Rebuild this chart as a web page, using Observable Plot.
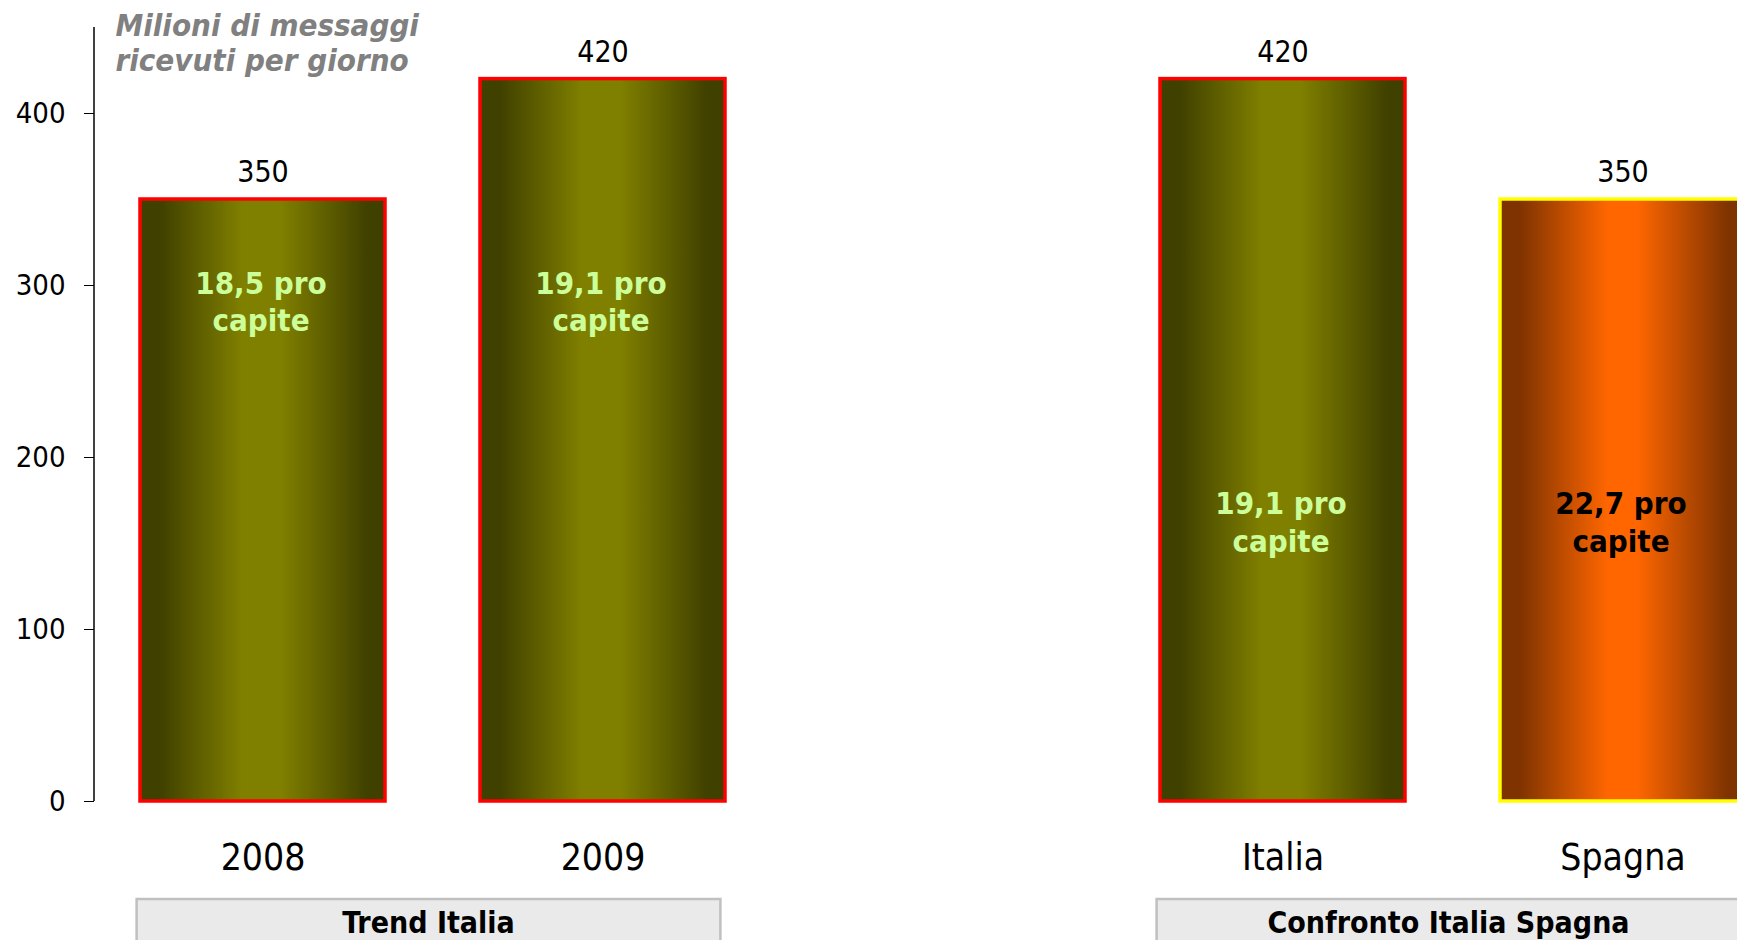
<!DOCTYPE html>
<html>
<head>
<meta charset="utf-8">
<script src="https://cdn.jsdelivr.net/npm/d3@7"></script>
<script src="https://cdn.jsdelivr.net/npm/@observablehq/plot@0.6"></script>
<style>
  html, body { margin: 0; padding: 0; background: #fff; width: 1737px; height: 940px; overflow: hidden; }
  #chart { position: relative; width: 1737px; height: 940px; overflow: hidden; }
  #chart svg { overflow: hidden; }
</style>
</head>
<body>
<svg width="0" height="0" style="position:absolute">
  <defs>
    <linearGradient id="gOlive" x1="0" x2="1" y1="0" y2="0">
      <stop offset="0" stop-color="#404000"/>
      <stop offset="0.08" stop-color="#404000"/>
      <stop offset="0.42" stop-color="#808000"/>
      <stop offset="0.57" stop-color="#808000"/>
      <stop offset="0.93" stop-color="#404000"/>
      <stop offset="1" stop-color="#404000"/>
    </linearGradient>
    <linearGradient id="gOrange" x1="0" x2="1" y1="0" y2="0">
      <stop offset="0" stop-color="#7f3300"/>
      <stop offset="0.08" stop-color="#7f3300"/>
      <stop offset="0.44" stop-color="#ff6600"/>
      <stop offset="0.56" stop-color="#ff6600"/>
      <stop offset="0.93" stop-color="#7f3300"/>
      <stop offset="1" stop-color="#7f3300"/>
    </linearGradient>
  </defs>
</svg>
<div id="chart"></div>
<script>
// ---- data ----
const categories = ["2008", "2009", "Italia", "Spagna"];
const values = [350, 420, 420, 350];
const perCapita = ["18,5", "19,1", "19,1", "22,7"];
const groups = ["Trend Italia", "Trend Italia", "Confronto Italia Spagna", "Confronto Italia Spagna"];
const countries = ["Italia", "Italia", "Italia", "Spagna"];
const groupNames = ["Trend Italia", "Confronto Italia Spagna"];
const yTicks = [0, 100, 200, 300, 400];
const titleText = "Milioni di messaggi\nricevuti per giorno";

// ---- layout / style ----
const FONT = "'DejaVu Sans Condensed', 'Liberation Sans', sans-serif";
const gapSlot = "\u200b";           // one empty slot between the two groups
const xDomain = [categories[0], categories[1], gapSlot, categories[2], categories[3]];
const labelLevel = {"Trend Italia": 291, "Confronto Italia Spagna": 163};
const fillOf = {Italia: "url(#gOlive)", Spagna: "url(#gOrange)"};
const strokeOf = {Italia: "#ff0000", Spagna: "#ffff00"};
const textOf = {Italia: "#ccff99", Spagna: "#000000"};

const data = categories.map((c, i) => ({
  cat: c, value: values[i], pc: perCapita[i], group: groups[i], country: countries[i]
}));

const marks = [];
for (const country of ["Italia", "Spagna"]) {
  const sub = data.filter(d => d.country === country);
  marks.push(Plot.barY(sub, {x: "cat", y: "value", fill: fillOf[country], stroke: strokeOf[country], strokeWidth: 3.5}));
  marks.push(Plot.text(sub, {
    x: "cat", y: d => labelLevel[d.group], text: d => `${d.pc} pro\ncapite`, dx: -2,
    fill: textOf[country], fontWeight: "bold", fontSize: 31, lineHeight: 1.2
  }));
}
marks.push(Plot.text(data, {x: "cat", y: "value", text: d => String(d.value), dy: -27, fontSize: 30, fill: "#000"}));
marks.push(Plot.axisY({ticks: yTicks, tickSize: 10, tickPadding: 19, fontSize: 29, label: null, anchor: "left"}));
marks.push(Plot.axisX({ticks: categories, tickSize: 0, tickPadding: 42, fontSize: 37, label: null}));
marks.push(Plot.text([titleText], {
  frameAnchor: "top-left", dx: 21, dy: 14.5, textAnchor: "start", lineAnchor: "middle",
  fontSize: 31, fontWeight: "bold", fontStyle: "italic", fill: "#808080", lineHeight: 1.13
}));

const plot = Plot.plot({
  width: 1737,
  height: 940,
  marginTop: 27,
  marginBottom: 139,
  marginLeft: 94,
  marginRight: 0,
  style: {fontFamily: FONT, background: "white", color: "black", overflow: "hidden"},
  x: {type: "band", domain: xDomain, range: [92, 1792], paddingInner: 0.28, paddingOuter: 0.14},
  y: {domain: [0, 450]},
  marks
});
document.getElementById("chart").appendChild(plot);

// y-axis line along the frame's left edge, using Plot's y scale
const ys = plot.scale("y");
const xs = plot.scale("x");
const svg = d3.select(plot);
svg.append("line")
  .attr("x1", 94).attr("x2", 94)
  .attr("y1", ys.range[0]).attr("y2", ys.range[1])
  .attr("stroke", "black").attr("stroke-width", 1.5);

// group boxes below the x labels, positioned from Plot's band scale
const band = d3.scaleBand().domain(xs.domain).range(xs.range)
  .paddingInner(xs.paddingInner).paddingOuter(xs.paddingOuter).align(xs.align ?? 0.5);
for (const g of groupNames) {
  const cats = data.filter(d => d.group === g).map(d => d.cat);
  const x0 = band(cats[0]) - 3;
  const x1 = band(cats[cats.length - 1]) + band.bandwidth() - 4;
  const top = ys.range[0] + 98;
  svg.append("rect").attr("x", x0).attr("y", top).attr("width", x1 - x0).attr("height", 80)
    .attr("fill", "#eaeaea").attr("stroke", "#c0c0c0").attr("stroke-width", 2.5);
  svg.append("text").attr("x", (x0 + x1) / 2).attr("y", top + 23).attr("dy", "0.35em")
    .attr("text-anchor", "middle").attr("font-size", 30).attr("font-weight", "bold")
    .attr("fill", "black").attr("font-family", FONT).text(g);
}
</script>
</body>
</html>
